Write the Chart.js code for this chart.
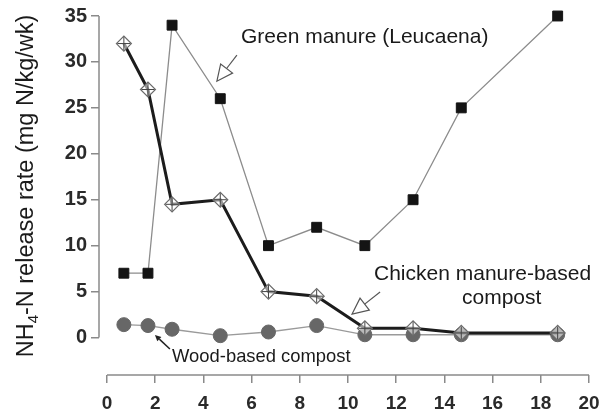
<!DOCTYPE html>
<html>
<head>
<meta charset="utf-8">
<script src="https://cdn.jsdelivr.net/npm/chart.js@4.4.1/dist/chart.umd.min.js"></script>
<style>
  html, body { margin: 0; padding: 0; background: #ffffff; }
  #wrap { width: 611px; height: 415px; }
</style>
</head>
<body>
<div id="wrap"><canvas id="c" width="611" height="415"></canvas></div>
<script>
// ---- Data ----
const weeks = [0.7, 1.7, 2.7, 4.7, 6.7, 8.7, 10.7, 12.7, 14.7, 18.7];
const greenManure = [7, 7, 34, 26, 10, 12, 10, 15, 25, 35];
const chickenCompost = [32, 27, 14.5, 15, 5, 4.5, 1, 1, 0.5, 0.5];
const woodCompost = [1.4, 1.3, 0.9, 0.2, 0.6, 1.3, 0.3, 0.3, 0.3, 0.3];
const xTickValues = [0, 2, 4, 6, 8, 10, 12, 14, 16, 18, 20];
const yTickValues = [0, 5, 10, 15, 20, 25, 30, 35];
const yTitleMain = "NH";
const yTitleSub = "4";
const yTitleRest = "-N release rate (mg N/kg/wk)";
const labelGreen = "Green manure (Leucaena)";
const labelChicken1 = "Chicken manure-based";
const labelChicken2 = "compost";
const labelWood = "Wood-based compost";

function pts(xs, ys) { return xs.map((x, i) => ({ x: x, y: ys[i] })); }

const FONT = "'Liberation Sans', Arial, Helvetica, sans-serif";

const decor = {
  id: 'decor',
  beforeDatasetsDraw(chart) {
    const ctx = chart.ctx;
    const xs = chart.scales.x, ys = chart.scales.y;
    const ca = chart.chartArea;
    ctx.save();
    ctx.strokeStyle = '#8a8a8a';
    ctx.lineWidth = 1.5;
    // y axis line from 0 to 35
    ctx.beginPath();
    ctx.moveTo(ca.left, ys.getPixelForValue(yTickValues[0]));
    ctx.lineTo(ca.left, ys.getPixelForValue(yTickValues[yTickValues.length - 1]));
    ctx.stroke();
    // x axis line from 0 to 20
    ctx.beginPath();
    ctx.moveTo(xs.getPixelForValue(xTickValues[0]), ca.bottom);
    ctx.lineTo(xs.getPixelForValue(xTickValues[xTickValues.length - 1]), ca.bottom);
    ctx.stroke();
    ctx.restore();
  },
  afterDraw(chart) {
    const ctx = chart.ctx;
    const xs = chart.scales.x, ys = chart.scales.y;
    const P = (x, y) => [xs.getPixelForValue(x), ys.getPixelForValue(y)];
    ctx.save();

    // Y axis title with subscript
    const fs = 23.5;
    const mainFont = fs + 'px ' + FONT;
    const subFont = Math.round(fs * 0.62) + 'px ' + FONT;
    ctx.font = mainFont;
    const w1 = ctx.measureText(yTitleMain).width;
    const w3 = ctx.measureText(yTitleRest).width;
    ctx.font = subFont;
    const w2 = ctx.measureText(yTitleSub).width;
    const total = w1 + w2 + w3;
    ctx.translate(33, 186);
    ctx.rotate(-Math.PI / 2);
    ctx.fillStyle = '#1a1a1a';
    ctx.textBaseline = 'alphabetic';
    ctx.textAlign = 'left';
    let cx = -total / 2;
    ctx.font = mainFont; ctx.fillText(yTitleMain, cx, 0); cx += w1;
    ctx.font = subFont; ctx.fillText(yTitleSub, cx, 5); cx += w2;
    ctx.font = mainFont; ctx.fillText(yTitleRest, cx, 0);
    ctx.setTransform(1, 0, 0, 1, 0, 0);

    // Annotation texts
    ctx.fillStyle = '#1a1a1a';
    ctx.textAlign = 'left';
    ctx.textBaseline = 'alphabetic';
    ctx.font = '21px ' + FONT;
    let p = P(5.56, 32.06); ctx.fillText(labelGreen, p[0], p[1]);
    p = P(11.08, 6.26); ctx.fillText(labelChicken1, p[0], p[1]);
    p = P(14.73, 3.65); ctx.fillText(labelChicken2, p[0], p[1]);
    ctx.font = '18.4px ' + FONT;
    p = P(2.70, -2.67); ctx.fillText(labelWood, p[0], p[1]);

    // Hollow arrows
    function hollowArrow(tail, tip, len, half) {
      const dx = tip[0] - tail[0], dy = tip[1] - tail[1];
      const L = Math.hypot(dx, dy);
      const ux = dx / L, uy = dy / L;
      const bx = tip[0] - ux * len, by = tip[1] - uy * len;
      ctx.strokeStyle = '#555';
      ctx.lineWidth = 1.2;
      ctx.beginPath();
      ctx.moveTo(tail[0], tail[1]);
      ctx.lineTo(bx, by);
      ctx.stroke();
      ctx.beginPath();
      ctx.moveTo(tip[0], tip[1]);
      ctx.lineTo(bx - uy * half, by + ux * half);
      ctx.lineTo(bx + uy * half, by - ux * half);
      ctx.closePath();
      ctx.fillStyle = '#ffffff';
      ctx.fill();
      ctx.stroke();
    }
    hollowArrow(P(5.39, 30.75), P(4.56, 27.9), 16, 7.5);
    hollowArrow(P(11.33, 4.95), P(10.17, 2.56), 16, 7.5);

    // Small filled arrow for wood compost
    (function () {
      const tail = P(2.61, -1.25), tip = P(1.99, 0.27);
      const dx = tip[0] - tail[0], dy = tip[1] - tail[1];
      const L = Math.hypot(dx, dy);
      const ux = dx / L, uy = dy / L;
      const len = 6, half = 3;
      const bx = tip[0] - ux * len, by = tip[1] - uy * len;
      ctx.strokeStyle = '#222';
      ctx.lineWidth = 1.5;
      ctx.beginPath();
      ctx.moveTo(tail[0], tail[1]);
      ctx.lineTo(bx, by);
      ctx.stroke();
      ctx.fillStyle = '#222';
      ctx.beginPath();
      ctx.moveTo(tip[0], tip[1]);
      ctx.lineTo(bx - uy * half, by + ux * half);
      ctx.lineTo(bx + uy * half, by - ux * half);
      ctx.closePath();
      ctx.fill();
    })();

    ctx.restore();
  }
};

new Chart(document.getElementById('c'), {
  type: 'line',
  data: {
    datasets: [
      {
        label: 'Chicken cross',
        data: pts(weeks, chickenCompost),
        showLine: false,
        pointStyle: 'cross',
        pointRadius: 6.5,
        pointBorderColor: '#444',
        pointBorderWidth: 1,
        clip: false
      },
      {
        label: 'Chicken manure-based compost',
        data: pts(weeks, chickenCompost),
        borderColor: '#1c1c1c',
        borderWidth: 3,
        tension: 0,
        pointStyle: 'rectRot',
        pointRadius: 7.5,
        pointBackgroundColor: 'rgba(255,255,255,0.55)',
        pointBorderColor: '#6a6a6a',
        pointBorderWidth: 1.2,
        clip: false
      },
      {
        label: 'Green manure (Leucaena)',
        data: pts(weeks, greenManure),
        borderColor: '#8c8c8c',
        borderWidth: 1.3,
        tension: 0,
        pointStyle: 'rect',
        pointRadius: 7,
        pointBackgroundColor: '#141414',
        pointBorderColor: '#141414',
        pointBorderWidth: 1,
        clip: false
      },
      {
        label: 'Wood-based compost',
        data: pts(weeks, woodCompost),
        borderColor: '#9a9a9a',
        borderWidth: 1.3,
        tension: 0,
        pointStyle: 'circle',
        pointRadius: 7,
        pointBackgroundColor: '#676767',
        pointBorderColor: '#676767',
        pointBorderWidth: 1,
        clip: false
      }
    ]
  },
  options: {
    responsive: false,
    animation: false,
    devicePixelRatio: 1,
    layout: { padding: { left: 0, right: 22, top: 16, bottom: 0 } },
    plugins: { legend: { display: false }, tooltip: { enabled: false }, title: { display: false } },
    scales: {
      x: {
        type: 'linear',
        min: -0.332,
        max: 20,
        afterBuildTicks: (s) => { s.ticks = xTickValues.map(v => ({ value: v })); },
        afterFit: (s) => { s.height = 40; },
        grid: { display: true, drawOnChartArea: false, drawTicks: true, tickLength: 8, color: '#8a8a8a', lineWidth: 1.5 },
        border: { display: false },
        ticks: { color: '#2a2a2a', font: { family: FONT, size: 19, weight: 'bold' }, padding: 9, maxRotation: 0, autoSkip: false }
      },
      y: {
        type: 'linear',
        min: -4.08,
        max: 35,
        afterBuildTicks: (s) => { s.ticks = yTickValues.map(v => ({ value: v })); },
        afterFit: (s) => { s.width = 99; },
        grid: { display: true, drawOnChartArea: false, drawTicks: true, tickLength: 8, color: '#8a8a8a', lineWidth: 1.5 },
        border: { display: false },
        ticks: { color: '#2a2a2a', font: { family: FONT, size: 20, weight: 'bold' }, padding: 4, autoSkip: false }
      }
    }
  },
  plugins: [decor]
});
</script>
</body>
</html>
